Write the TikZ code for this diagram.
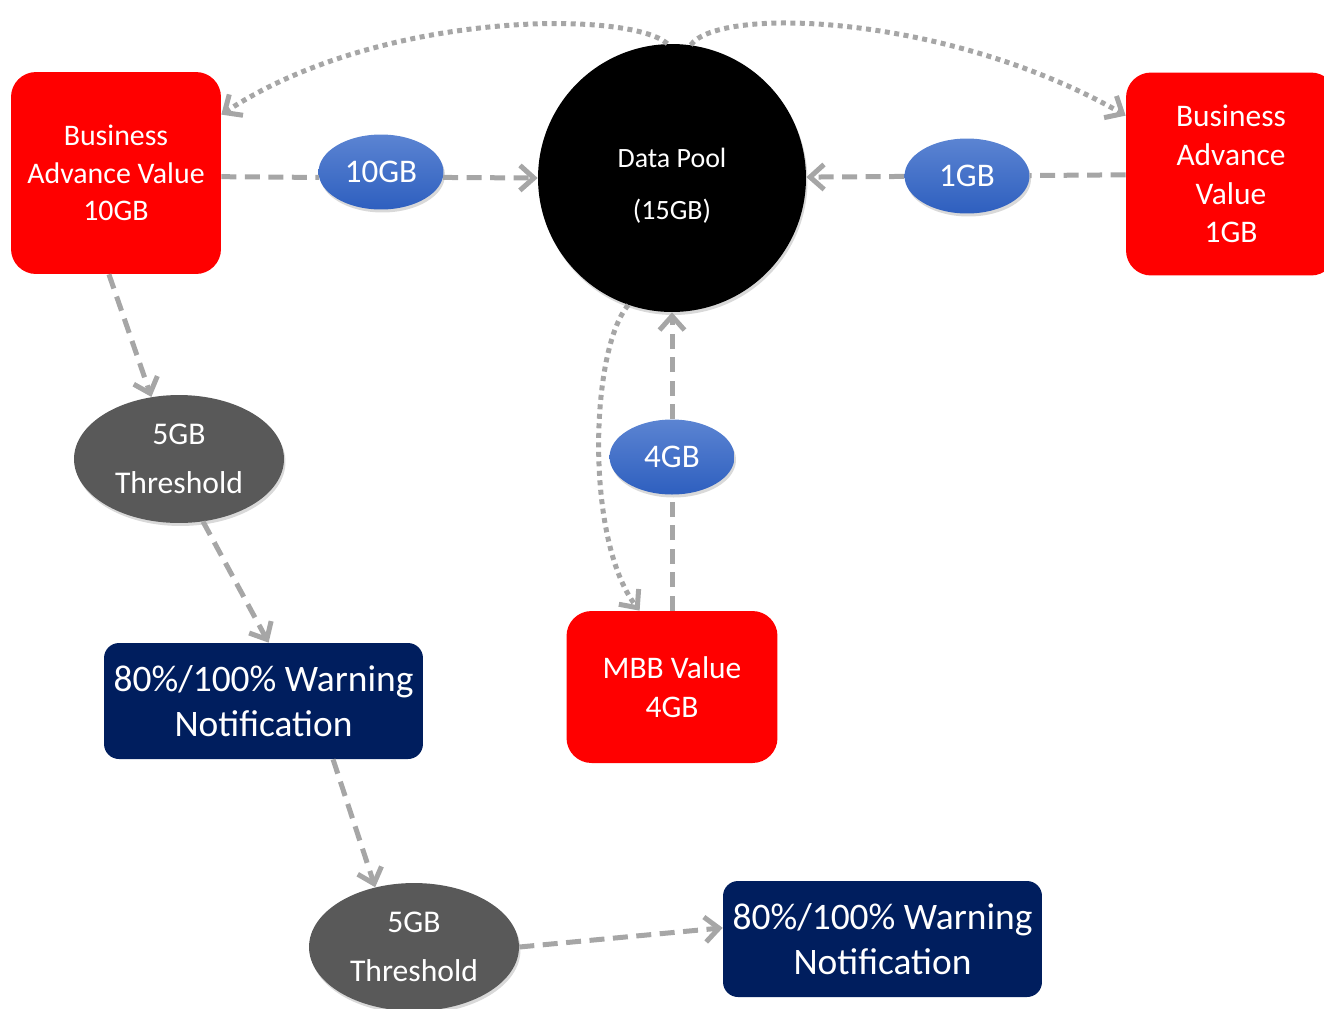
\documentclass[tikz,border=0pt]{standalone}
\usepackage{fontspec}
\setmainfont{Carlito}
\usetikzlibrary{arrows.meta,shapes.geometric,shadows}
\definecolor{vfred}{HTML}{FF0000}
\definecolor{navy}{HTML}{001E5E}
\definecolor{thgray}{HTML}{595959}
\definecolor{lnk}{HTML}{A6A6A6}
\definecolor{bluetop}{HTML}{5B84D2}
\definecolor{bluebot}{HTML}{2E5FBF}
\tikzset{
  redbox/.style={fill=vfred,rounded corners=0.5cm,text=white,align=center,inner sep=0pt},
  navybox/.style={fill=navy,rounded corners=0.3cm,text=white,align=center,inner sep=0pt,
    minimum width=6.38cm,minimum height=2.32cm,font=\fontsize{21.3}{25.5}\selectfont},
  soft/.style={drop shadow={opacity=0.3,shadow xshift=0.03cm,shadow yshift=-0.06cm}},
  gbell/.style={ellipse,soft,top color=bluetop,bottom color=bluebot,text=white,inner sep=0pt,
    minimum width=2.5cm,minimum height=1.5cm,font=\fontsize{18.8}{22}\selectfont},
  thr/.style={ellipse,soft,fill=thgray,text=white,align=center,inner sep=0pt,
    minimum width=4.2cm,minimum height=2.56cm,font=\fontsize{18}{27.8}\selectfont},
  flow/.style={draw=lnk,line width=0.1cm,dash pattern=on 0.3cm off 0.17cm},
  dots/.style={draw=lnk,line width=0.1cm,dash pattern=on 0.1cm off 0.09cm},
  arr/.style={-{Straight Barb[length=0.28cm,width=0.5cm]}}
}
\begin{document}
\begin{tikzpicture}[x=0.02cm,y=-0.02cm]
    \useasboundingbox (0,0) rectangle (1324,1008);
    % top row
    \path (116,173) node [redbox,minimum width=4.2cm,minimum height=4.04cm,font=\fontsize{17}{21.3}\selectfont](bav10){Business\\Advance Value\\10GB};
    \path (672,178) node [circle,soft,fill=black,text=white,align=center,minimum size=5.36cm,text height=1.75cm,font=\fontsize{15.9}{29.5}\selectfont](pool){Data Pool\\(15GB)};
    \path (1231,174) node [redbox,minimum width=4.2cm,minimum height=4.06cm,font=\fontsize{17.9}{22.1}\selectfont](bav1){Business\\Advance\\Value\\1GB};
    \path (381,172) node [gbell](gb10){10GB};
    \path (967,176) node [gbell](gb1){1GB};
    % MBB branch
    \path (672,687) node [redbox,minimum width=4.22cm,minimum height=3.04cm,font=\fontsize{17.9}{22.1}\selectfont](mbb){MBB Value\\4GB};
    \path (672,457) node [gbell](gb4){4GB};
    % threshold chain
    \path (179,459) node [thr](thr1){5GB\\Threshold};
    \path (263.5,701) node [navybox](warn1){80\%/100\% Warning\\Notification};
    \path (414,947) node [thr](thr2){5GB\\Threshold};
    \path (882.5,939) node [navybox](warn2){80\%/100\% Warning\\Notification};

    \draw[flow] (bav10.-2) -- (gb10.185);
    \draw[flow,arr] (gb10.-5) -- (pool.west);
    \draw[flow] (bav1) -- (gb1);
    \draw[flow,arr] (gb1) -- (pool);
    \draw[flow] (mbb) -- (gb4);
    \draw[flow,arr] (gb4) -- (pool);
    \draw[flow,arr] (bav10.266) -- (thr1.114);
    \draw[flow,arr] (thr1.291) -- (warn1.85);
    \draw[flow,arr] (warn1.320) -- (thr2.123);
    \draw[flow,arr] (thr2.east) -- (warn2.176);
    \draw[dots,arr] (pool.92) .. controls (630,10) and (380,10) .. (bav10.29);
    \draw[dots,arr] (pool.82) .. controls (720,5) and (950,15) .. (bav1.151);
    \draw[dots,arr] (pool.251) .. controls (590,350) and (585,540) .. (mbb.113);

  \end{tikzpicture}
\end{document}
